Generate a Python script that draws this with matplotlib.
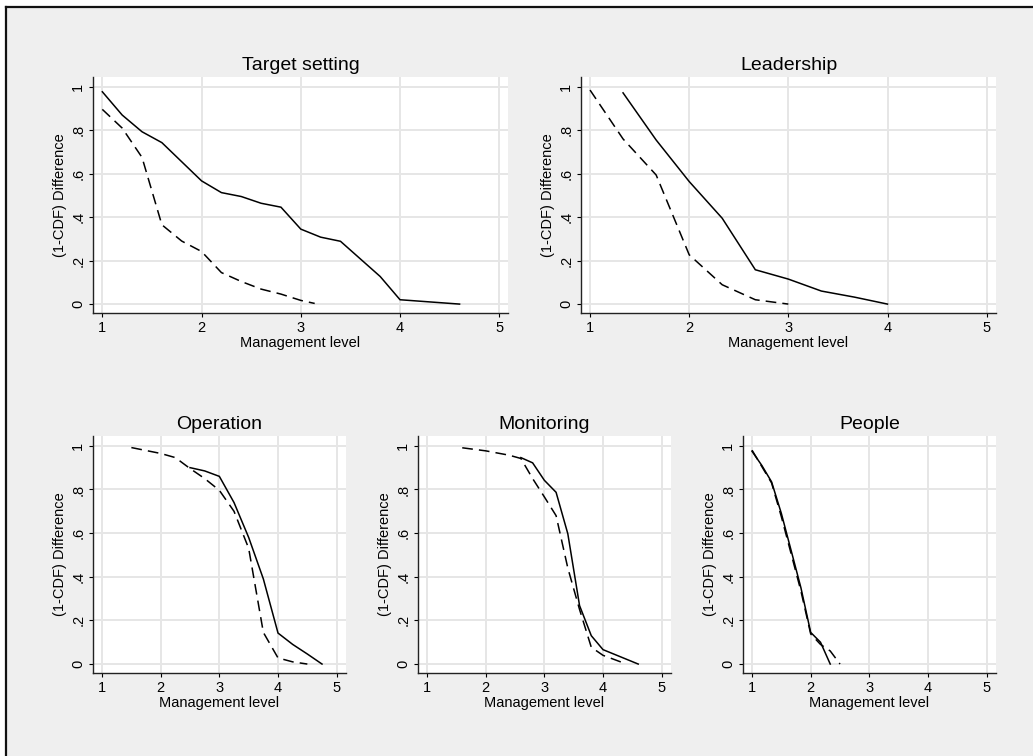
import matplotlib
matplotlib.use("Agg")
import matplotlib.pyplot as plt
from matplotlib.patches import Rectangle
from matplotlib.lines import Line2D

plt.rcParams['font.family'] = ['Liberation Sans', 'DejaVu Sans']

# ---- data (x: management level, y: 1-CDF difference)
titles = ["Target setting", "Leadership", "Operation", "Monitoring", "People"]

ts_x_solid = [1.0, 1.2, 1.4, 1.6, 2.0, 2.2, 2.4, 2.6, 2.8, 3.0, 3.2, 3.4, 3.8, 4.0, 4.6]
ts_y_solid = [0.977, 0.87, 0.793, 0.743, 0.567, 0.513, 0.495, 0.464, 0.446, 0.345, 0.308, 0.289, 0.127, 0.02, 0.0]
ts_x_dashed = [1.0, 1.2, 1.4, 1.6, 1.8, 2.0, 2.2, 2.4, 2.6, 2.8, 3.0, 3.14]
ts_y_dashed = [0.896, 0.81, 0.675, 0.365, 0.29, 0.242, 0.145, 0.104, 0.069, 0.046, 0.017, 0.003]

ld_x_solid = [1.333, 1.667, 2.0, 2.333, 2.667, 3.0, 3.333, 3.667, 4.0]
ld_y_solid = [0.972, 0.755, 0.564, 0.395, 0.158, 0.115, 0.06, 0.032, 0.0]
ld_x_dashed = [1.0, 1.333, 1.667, 2.0, 2.333, 2.667, 3.0]
ld_y_dashed = [0.985, 0.76, 0.594, 0.227, 0.089, 0.02, 0.0]

op_x_solid = [2.5, 2.75, 3.0, 3.25, 3.5, 3.75, 4.0, 4.25, 4.5, 4.75]
op_y_solid = [0.90, 0.885, 0.86, 0.74, 0.58, 0.39, 0.142, 0.09, 0.046, 0.0]
op_x_dashed = [1.5, 2.0, 2.25, 2.5, 2.75, 3.0, 3.25, 3.5, 3.75, 4.0, 4.25, 4.5]
op_y_dashed = [0.992, 0.965, 0.946, 0.896, 0.85, 0.796, 0.70, 0.53, 0.145, 0.028, 0.01, 0.0]

mn_x_solid = [2.6, 2.8, 3.0, 3.2, 3.4, 3.6, 3.8, 4.0, 4.2, 4.4, 4.6]
mn_y_solid = [0.946, 0.922, 0.842, 0.787, 0.597, 0.268, 0.13, 0.066, 0.044, 0.022, 0.0]
mn_x_dashed = [1.6, 2.0, 2.4, 2.6, 2.8, 3.0, 3.2, 3.4, 3.6, 3.8, 4.0, 4.2, 4.4]
mn_y_dashed = [0.991, 0.977, 0.957, 0.942, 0.85, 0.766, 0.68, 0.44, 0.25, 0.077, 0.04, 0.02, 0.0]

pp_x_solid = [1.0, 1.167, 1.333, 1.5, 1.667, 1.833, 2.0, 2.167, 2.333]
pp_y_solid = [0.975, 0.91, 0.835, 0.69, 0.52, 0.35, 0.145, 0.10, 0.0]
pp_x_dashed = [1.0, 1.167, 1.333, 1.5, 1.667, 1.833, 2.0, 2.167, 2.333, 2.5]
pp_y_dashed = [0.98, 0.905, 0.83, 0.675, 0.505, 0.335, 0.138, 0.09, 0.06, 0.0]

x_ticks = [1, 2, 3, 4, 5]
y_ticks = [0, 0.2, 0.4, 0.6, 0.8, 1.0]
y_ticklabels = ["0", ".2", ".4", ".6", ".8", "1"]

series = [
    (ts_x_solid, ts_y_solid, ts_x_dashed, ts_y_dashed),
    (ld_x_solid, ld_y_solid, ld_x_dashed, ld_y_dashed),
    (op_x_solid, op_y_solid, op_x_dashed, op_y_dashed),
    (mn_x_solid, mn_y_solid, mn_x_dashed, mn_y_dashed),
    (pp_x_solid, pp_y_solid, pp_x_dashed, pp_y_dashed),
]

W, H = 1033, 756
fig = plt.figure(figsize=(W / 100, H / 100), dpi=100, facecolor='white')

# stata-ish gray graph region with a border on top/left
fig.patches.append(Rectangle((6 / W, 0), 1, 1 - 7 / H, transform=fig.transFigure,
                             facecolor='#efefef', edgecolor='none', zorder=-5))
fig.lines.append(Line2D([6 / W, 1], [1 - 7 / H, 1 - 7 / H], transform=fig.transFigure,
                        color='#111111', lw=1.6, zorder=-4))
fig.lines.append(Line2D([6 / W, 6 / W], [0, 1 - 7 / H], transform=fig.transFigure,
                        color='#111111', lw=1.6, zorder=-4))

# axes boxes in pixels: left, right, top, bottom
boxes = [
    (93, 508, 77, 313),
    (581, 996, 77, 313),
    (93, 346, 436, 673),
    (418, 671, 436, 673),
    (743, 996, 436, 673),
]
xlims = [(0.906, 5.088), (0.909, 5.094), (0.846, 5.159), (0.846, 5.159), (0.846, 5.159)]

for (l, r, t, b), title, (xs, ys, xd, yd), xl in zip(boxes, titles, series, xlims):
    ax = fig.add_axes([l / W, 1 - b / H, (r - l) / W, (b - t) / H])
    ax.set_facecolor('white')
    ax.plot(xs, ys, color='black', lw=1.1, solid_joinstyle='miter', zorder=3)
    ax.plot(xd, yd, color='black', lw=1.1, dashes=(7, 4), zorder=3)
    ax.set_xlim(*xl)
    ax.set_ylim(-0.041, 1.045)
    ax.set_xticks(x_ticks)
    ax.set_yticks(y_ticks)
    ax.set_yticklabels(y_ticklabels, rotation=90, va='center')
    ax.grid(True, color='#e6e6e6', lw=1.4, zorder=0)
    ax.set_axisbelow(True)
    for s in ['top', 'right']:
        ax.spines[s].set_visible(False)
    for s in ['left', 'bottom']:
        ax.spines[s].set_color('#222222')
        ax.spines[s].set_linewidth(1.0)
    ax.tick_params(direction='out', length=3, width=0.8, labelsize=10.5, pad=2.5)
    ax.set_title(title, fontsize=14, pad=5)
    ax.set_xlabel("Management level", fontsize=10.5, labelpad=1)
    ax.set_ylabel("(1-CDF) Difference", fontsize=10.5, labelpad=3)

fig.savefig("out.png", dpi=100, facecolor=fig.get_facecolor())
